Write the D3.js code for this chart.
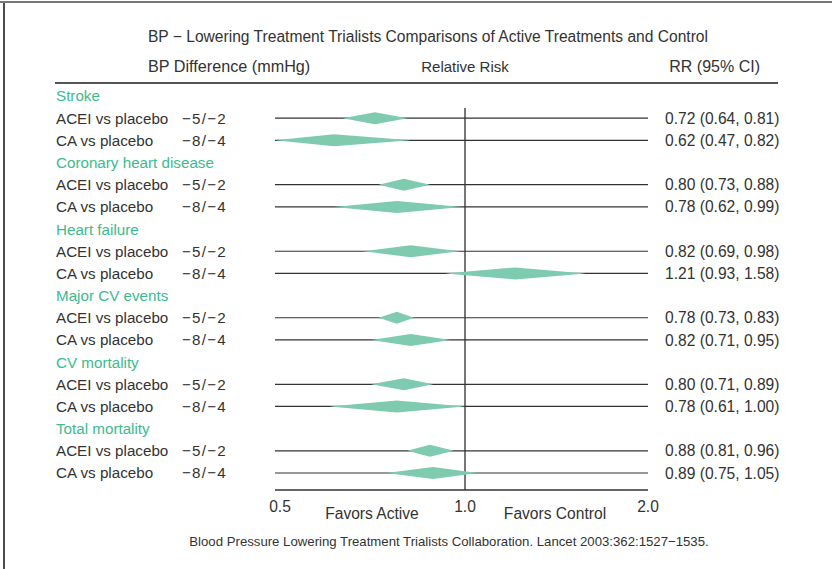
<!DOCTYPE html>
<html>
<head>
<meta charset="utf-8">
<script src="https://cdn.jsdelivr.net/npm/d3@7"></script>
<style>
  html, body { margin: 0; padding: 0; background: #fff; }
  svg { display: block; }
  text { font-family: "Liberation Sans", Arial, sans-serif; }
</style>
</head>
<body>
<svg id="chart" width="832" height="569"></svg>
<script>
// Outcome groups and the two comparisons within each
const groups = ["Stroke", "Coronary heart disease", "Heart failure", "Major CV events", "CV mortality", "Total mortality"];
const comparisons = ["ACEI vs placebo", "CA vs placebo"];
const bpDiffs = ["\u22125/\u22122", "\u22128/\u22124"];

// Relative risk and 95% CI, per group: [ACEI, CA]
const rr    = [[0.72, 0.62], [0.80, 0.78], [0.82, 1.21], [0.78, 0.82], [0.80, 0.78], [0.88, 0.89]];
const lower = [[0.64, 0.47], [0.73, 0.62], [0.69, 0.93], [0.73, 0.71], [0.71, 0.61], [0.81, 0.75]];
const upper = [[0.81, 0.82], [0.88, 0.99], [0.98, 1.58], [0.83, 0.95], [0.89, 1.00], [0.96, 1.05]];

const tickValues = [0.5, 1.0, 2.0];

const svg = d3.select("#chart");
const green = "#7ecbb0";
const headGreen = "#3dbb8e";
const ink = "#333";

// Frame
svg.append("line").attr("x1", 0).attr("x2", 832).attr("y1", 2).attr("y2", 2)
  .attr("stroke", "#777").attr("stroke-width", 2);
svg.append("line").attr("x1", 4).attr("x2", 4).attr("y1", 3).attr("y2", 569)
  .attr("stroke", "#111").attr("stroke-width", 1.5);

// Scales: log axis, piecewise through the three tick values
const x = d3.scaleLog().domain(tickValues).range([275, 465, 648]);
const y = d3.scaleLinear().domain([0, 17]).range([96, 473]);
const x0 = x(tickValues[0]), x1 = x(tickValues[tickValues.length - 1]);

// Title and column headers
svg.append("text").attr("x", 428).attr("y", 42).attr("text-anchor", "middle")
  .attr("font-size", 15.6).attr("fill", ink)
  .text("BP \u2212 Lowering Treatment Trialists Comparisons of Active Treatments and Control");
svg.append("text").attr("x", 148).attr("y", 72).attr("font-size", 16.2).attr("fill", ink)
  .text("BP Difference (mmHg)");
svg.append("text").attr("x", 465).attr("y", 72).attr("text-anchor", "middle")
  .attr("font-size", 15).attr("fill", ink).text("Relative Risk");
svg.append("text").attr("x", 760).attr("y", 72).attr("text-anchor", "end")
  .attr("font-size", 16).attr("fill", ink).text("RR (95% CI)");
svg.append("line").attr("x1", 55).attr("x2", 778).attr("y1", 83).attr("y2", 83)
  .attr("stroke", "#555").attr("stroke-width", 2);

// Reference line at RR = 1
svg.append("line").attr("x1", x(1)).attr("x2", x(1)).attr("y1", 108).attr("y2", 490)
  .attr("stroke", "#555").attr("stroke-width", 1.6);

const clamp = v => Math.max(tickValues[0], Math.min(tickValues[2], v));
const half = 6;

groups.forEach((g, gi) => {
  svg.append("text").attr("x", 56).attr("y", y(gi * 3)).attr("dy", "0.36em")
    .attr("font-size", 15.2).attr("fill", headGreen).text(g);

  comparisons.forEach((c, ci) => {
    const yy = y(gi * 3 + ci + 1);
    svg.append("text").attr("x", 56).attr("y", yy).attr("dy", "0.36em")
      .attr("font-size", 15.2).attr("fill", ink).text(c);
    svg.append("text").attr("x", 182).attr("y", yy).attr("dy", "0.36em")
      .attr("font-size", 15.2).attr("letter-spacing", 1.2).attr("fill", ink).text(bpDiffs[ci]);

    svg.append("line").attr("x1", x0).attr("x2", x1)
      .attr("y1", yy).attr("y2", yy).attr("stroke", "#333").attr("stroke-width", 1.2);

    const lo = x(clamp(lower[gi][ci])), mid = x(rr[gi][ci]), hi = x(clamp(upper[gi][ci]));
    svg.append("path")
      .attr("d", d3.line()([[lo, yy], [mid, yy - half], [hi, yy], [mid, yy + half]]) + "Z")
      .attr("fill", green);

    svg.append("text").attr("x", 665).attr("y", yy).attr("dy", "0.36em")
      .attr("font-size", 15.6).attr("fill", ink)
      .text(`${rr[gi][ci].toFixed(2)} (${lower[gi][ci].toFixed(2)}, ${upper[gi][ci].toFixed(2)})`);
  });
});

// Axis
svg.append("line").attr("x1", x0).attr("x2", x1).attr("y1", 490).attr("y2", 490)
  .attr("stroke", "#333").attr("stroke-width", 1.4);
svg.selectAll(".tick").data(tickValues).join("text")
  .attr("class", "tick")
  .attr("x", d => x(d) + (d === tickValues[0] ? 5 : 0)).attr("y", 512).attr("text-anchor", "middle")
  .attr("font-size", 15.6).attr("fill", ink).text(d => d.toFixed(1));
svg.append("text").attr("x", 372).attr("y", 519).attr("text-anchor", "middle")
  .attr("font-size", 15.6).attr("fill", ink).text("Favors Active");
svg.append("text").attr("x", 555).attr("y", 519).attr("text-anchor", "middle")
  .attr("font-size", 15.6).attr("fill", ink).text("Favors Control");

// Source
svg.append("text").attr("x", 449).attr("y", 546).attr("text-anchor", "middle")
  .attr("font-size", 13.2).attr("fill", ink)
  .text("Blood Pressure Lowering Treatment Trialists Collaboration. Lancet 2003:362:1527\u22121535.");
</script>
</body>
</html>
